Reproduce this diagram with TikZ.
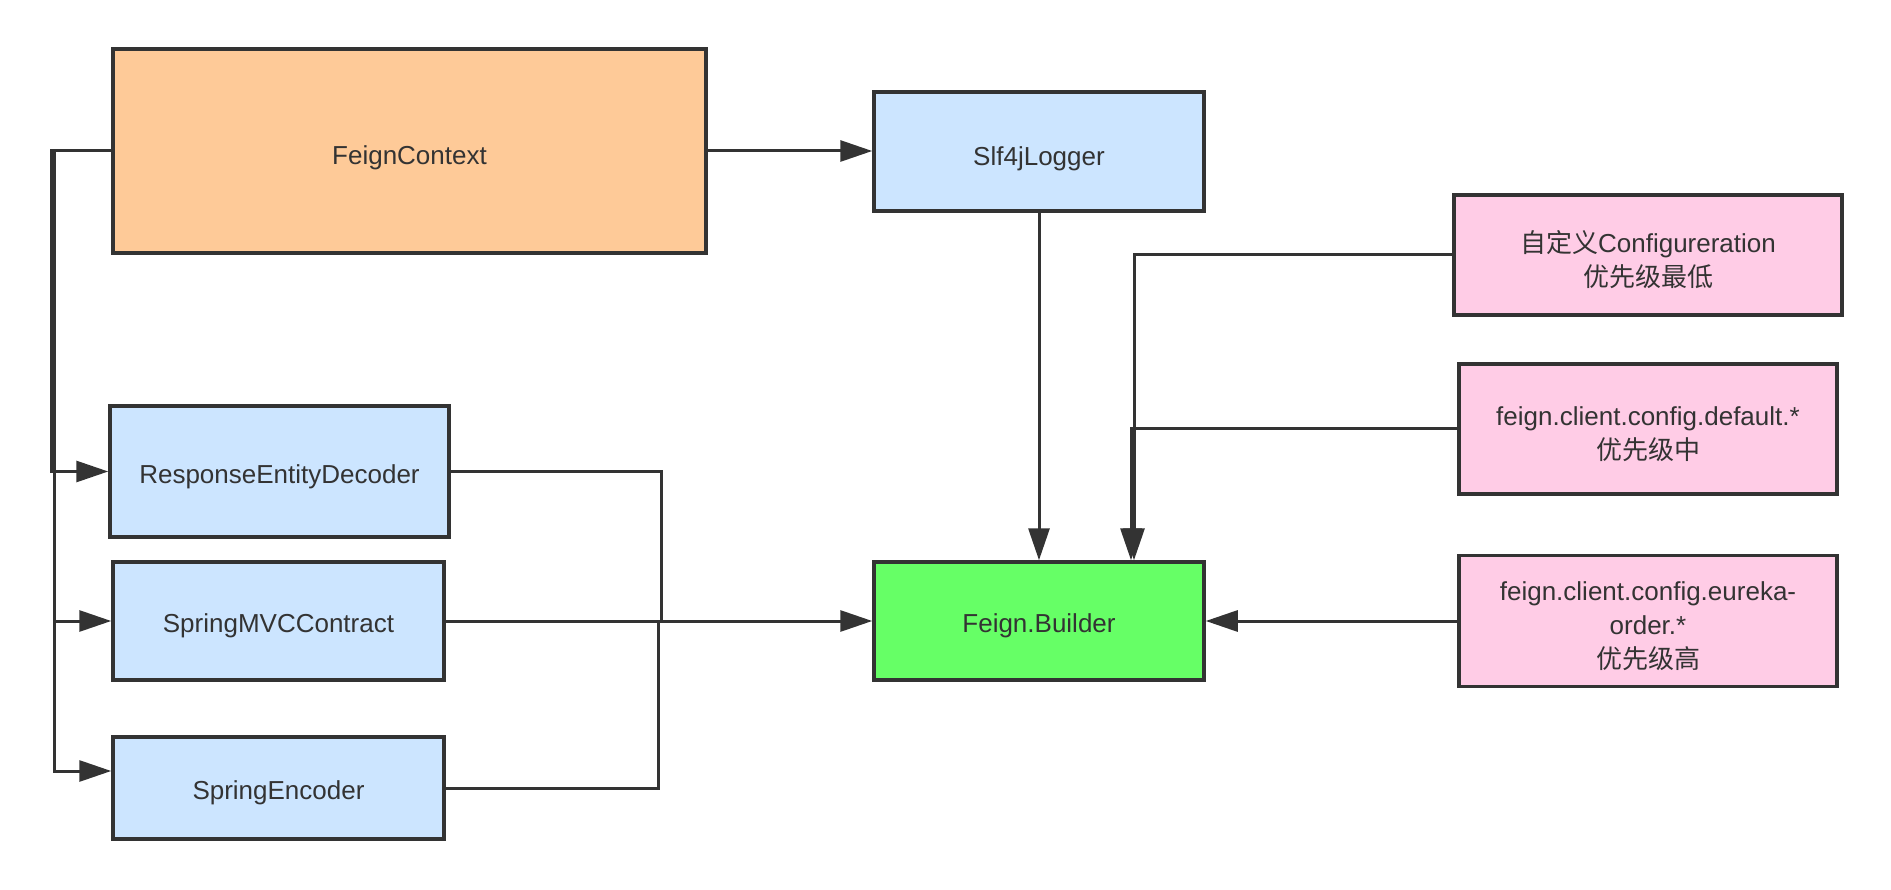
\documentclass[tikz,border=0pt]{standalone}
\usepackage{fontspec}
\setmainfont{Liberation Sans}
\newfontfamily\cjk{Noto Sans CJK SC}
\usetikzlibrary{arrows.meta,calc}
\definecolor{edge}{HTML}{333333}
\definecolor{orangefill}{HTML}{FECA98}
\definecolor{bluefill}{HTML}{CCE5FF}
\definecolor{greenfill}{HTML}{66FF66}
\definecolor{pinkfill}{HTML}{FFCCE6}
\begin{document}
\begin{tikzpicture}[x=1pt,y=1pt,
  box/.style={draw=edge,line width=3.5pt,rectangle,inner sep=0pt,align=center,
    text=edge,font=\fontsize{26}{34}\selectfont},
  lbl/.style={text=edge,align=center,font=\fontsize{26}{34}\selectfont,inner sep=0pt},
  conn/.style={draw=edge,line width=3pt},
  arr/.style={conn,-{Triangle[length=32pt,width=21pt]}}]
\useasboundingbox (0,0) rectangle (1891,-890);
\fill[white] (0,0) rectangle (1891,-890);

\node[box,fill=orangefill,minimum width=593pt,minimum height=204pt] (fc) at (409.5,-151) {};
\node[box,fill=bluefill,minimum width=330pt,minimum height=119pt] (slf) at (1039,-151.5) {};
\node[box,fill=greenfill,minimum width=330pt,minimum height=118pt] (fb) at (1039,-621) {};
\node[box,fill=bluefill,minimum width=339pt,minimum height=131pt] (red) at (279.5,-471.5) {};
\node[box,fill=bluefill,minimum width=331pt,minimum height=118pt] (smc) at (278.5,-621) {};
\node[box,fill=bluefill,minimum width=331pt,minimum height=102pt] (se) at (278.5,-788) {};
\node[box,fill=pinkfill,minimum width=388pt,minimum height=120pt] (p1) at (1648,-255) {};
\node[box,fill=pinkfill,minimum width=378pt,minimum height=130pt] (p2) at (1648,-429) {};
\node[box,fill=pinkfill,minimum width=378pt,minimum height=131pt] (p3) at (1648,-621) {};

\node[lbl] (tfc) at ($(fc.center)+(0,-7)$) {FeignContext};
\node[lbl] (tslf) at ($(slf.center)+(0,-7)$) {Slf4jLogger};
\node[lbl] (tfb) at ($(fb.center)+(0,-5)$) {Feign.Builder};
\node[lbl] (tred) at ($(red.center)+(0,-5)$) {ResponseEntityDecoder};
\node[lbl] (tsmc) at ($(smc.center)+(0,-5)$) {SpringMVCContract};
\node[lbl] (tse) at ($(se.center)+(0,-5)$) {SpringEncoder};
\node[lbl] (tp1) at ($(p1.center)+(0,-5)$) {{\cjk 自定义}Configureration\\{\cjk 优先级最低}};
\node[lbl] (tp2) at ($(p2.center)+(0,-5)$) {feign.client.config.default.*\\{\cjk 优先级中}};
\node[lbl] (tp3) at ($(p3.center)+(0,-5)$) {feign.client.config.eureka-\\order.*\\{\cjk 优先级高}};

\coordinate (busA) at (51,-151);
\coordinate (busB) at (54,-151);
\coordinate (jA) at (661,-621);
\coordinate (jB) at (658,-621);

\draw[arr] (fc.east) -- (fc.east -| slf.west);
\draw[arr] (slf.south) -- (fb.north);
\draw[arr] (fc.west) -- (busA) |- (red.west);
\draw[arr] (fc.west) -- (busB) |- (smc.west);
\draw[arr] (fc.west) -- (busB) |- ($(se.west)+(0,17)$);
\draw[conn] (red.east) -| (jA);
\draw[conn] (se.east) -| (jB);
\draw[arr] (smc.east) -- (smc.east -| fb.west);
\draw[arr] (p1.west) -| ($(fb.north)+(95,0)$);
\draw[arr] (p2.west) -| ($(fb.north)+(92,0)$);
\draw[arr] (p3.west) -- (p3.west -| fb.east);
\end{tikzpicture}
\end{document}
